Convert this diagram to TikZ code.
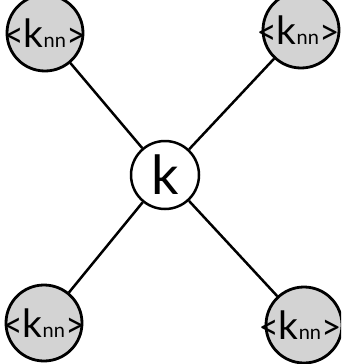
\documentclass[tikz,border=0pt]{standalone}
\usepackage{fontspec}
\setmainfont{Lato}
\definecolor{nodegray}{RGB}{211,211,211}
\newcommand{\knnlabel}[1][0pt]{\makebox[0pt]{\hspace*{#1}\fontsize{35}{35}\selectfont <\fontsize{39}{39}\selectfont k\fontsize{20}{20}\selectfont nn\fontsize{35}{35}\selectfont >}}
\begin{document}
\begin{tikzpicture}[x=1pt,y=-1pt,
  outer/.style={circle, draw=black, line width=2.8pt, fill=nodegray, minimum size=76pt, inner sep=0pt},
  hub/.style={circle, draw=black, line width=2.5pt, fill=white, minimum size=68pt, inner sep=0pt},
  link/.style={line width=2.5pt}]
\useasboundingbox (0,0) rectangle (341,364);
\clip (0,0) rectangle (341,364);
\node[hub] (c) at (165,175) {\fontsize{54}{54}\selectfont k};
\node[outer] (tl) at (45,33) {\knnlabel};
\node[outer] (tr) at (301,30) {\knnlabel[-6pt]};
\node[outer] (bl) at (44,323) {\knnlabel};
\node[outer] (br) at (304,325) {\knnlabel[-8pt]};
\draw[link] (tl) -- (c);
\draw[link] (tr) -- (c);
\draw[link] (bl) -- (c);
\draw[link] (br) -- (c);
\end{tikzpicture}
\end{document}
